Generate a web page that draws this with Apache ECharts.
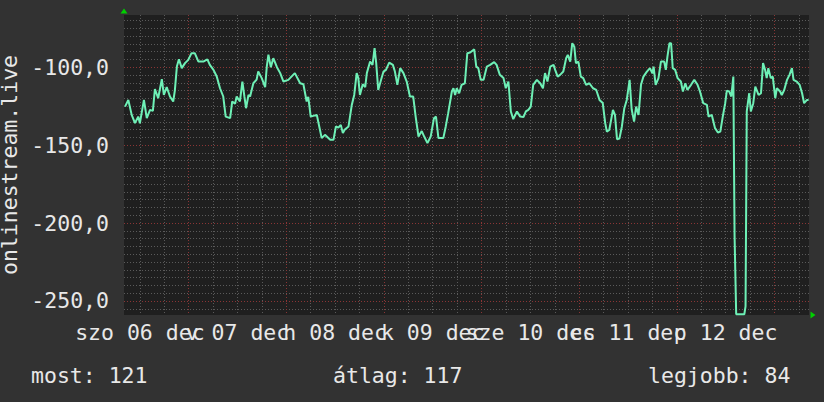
<!DOCTYPE html>
<html><head><meta charset="utf-8">
<script src="https://cdn.jsdelivr.net/npm/echarts@6/dist/echarts.min.js"></script>
<style>html,body{margin:0;padding:0;background:#323232;}#c{width:824px;height:402px;}</style>
</head><body><div id="c"></div>
<script>
// time = hours since szo 06 dec 00:00, value = measured value
const dec06 = [[8.35,-125.3],[9.16,-121],[9.99,-130.6],[10.8,-135.9],[11.6,-131.7],[12.0,-136],[13.0,-121],[13.7,-132.7],[14.5,-127.4],[15.2,-128],[15.7,-114],[16.5,-119.9],[17.4,-107.7],[17.9,-117.8],[18.6,-112.8],[19.4,-118.8],[20.2,-122],[20.6,-115],[21.1,-99.6],[21.6,-94.9],[22.3,-100.6],[23.1,-97.4],[23.9,-95.3]];
const dec07 = [[24.7,-91],[25.5,-91],[26.4,-96.4],[27.6,-96.4],[28.6,-95],[29.2,-98.5],[30.1,-101.7],[30.9,-106],[31.7,-113.5],[32.5,-118.8],[33.1,-131.7],[34.2,-132.7],[34.7,-122],[35.4,-123.5],[35.8,-118.8],[36.6,-122],[37.2,-109.2],[37.7,-118.8],[38.1,-126.3],[38.7,-117.8],[39.1,-118.8],[39.9,-110.3],[40.7,-108],[41.1,-102.8],[41.96,-107],[42.8,-112.8],[43.2,-99.6],[43.6,-92],[44.2,-100],[44.8,-94.2],[45.7,-100],[46.5,-103.8],[47.3,-109.2]];
const dec08 = [[48.5,-108.1],[50.1,-103.8],[51.4,-110.3],[52.2,-110.9],[53.0,-122],[53.4,-119],[54.0,-131.7],[55.5,-130.6],[56.1,-138],[56.7,-145.5],[57.5,-143.4],[58.8,-146.6],[59.6,-146.6],[60.2,-138],[60.8,-138.8],[61.4,-137],[61.9,-142.3],[62.4,-140],[63.3,-138],[64.1,-124.2],[64.7,-117.8],[65.3,-103.8],[65.7,-107],[66.1,-117.8],[66.8,-110.9],[67.4,-112.8],[67.8,-103.8],[68.6,-96.4],[69.2,-98.5],[69.7,-87.8],[70.1,-97.4],[70.6,-114.6],[71.3,-108.1]];
const dec09 = [[71.9,-102.8],[72.5,-101.7],[73.3,-97],[74.2,-98.5],[74.7,-102.8],[75.3,-111.3],[76.0,-100.6],[76.8,-103.8],[77.6,-109.2],[78.4,-118.8],[79.2,-118.8],[79.8,-131.7],[80.5,-144.5],[81.3,-141],[81.9,-144.5],[82.7,-148.7],[83.5,-144.5],[84.3,-132.7],[84.8,-131.7],[85.4,-145.5],[86.6,-145.5],[87.2,-138],[87.8,-129.5],[88.7,-115.6],[89.1,-113.5],[89.5,-117.8],[89.9,-113.5],[90.5,-116.7],[91.1,-111.3],[91.9,-110.3],[92.5,-91],[93.2,-90.6],[94.2,-88.5],[94.7,-99.6],[95.2,-100.6],[95.8,-108.1]];
const dec10 = [[96.5,-108.1],[97.3,-99.6],[98.1,-98.5],[99.1,-96.7],[99.7,-98.5],[100.5,-104.9],[101.4,-107],[101.96,-113.5],[102.6,-109.2],[103.2,-128.4],[103.8,-133.3],[104.7,-128.4],[105.5,-131.7],[106.3,-132],[106.9,-128.4],[107.5,-127.4],[108.1,-125.3],[108.7,-111.3],[109.6,-108.1],[110.4,-110.3],[111.1,-113.5],[111.6,-103.8],[112.2,-109.2],[112.9,-99.6],[113.7,-98.5],[114.1,-101.7],[114.7,-106],[115.3,-104.9],[116.1,-102.8],[116.8,-94.2],[117.2,-92.1],[117.8,-96.4],[118.3,-84.6],[118.8,-86.8],[119.2,-97.4],[119.8,-96.4]];
const dec11 = [[120.4,-106],[121.0,-107],[121.7,-111.3],[122.5,-110.3],[123.4,-113.5],[124.2,-114.6],[125.0,-121],[125.8,-123],[126.4,-135.9],[126.8,-141.3],[127.4,-140.3],[128.3,-127.4],[128.8,-130.6],[129.3,-146.2],[129.9,-145.7],[130.5,-138],[131.1,-126.3],[131.7,-121],[132.4,-108.1],[132.9,-127],[133.5,-134.9],[134.0,-125.3],[134.6,-130.6],[135.2,-111.3],[135.8,-106],[136.6,-103],[137.4,-100.6],[138.0,-104],[138.3,-99.6],[138.8,-111.3],[139.5,-107],[140.1,-96.4],[140.9,-96.4],[141.3,-101.7],[141.7,-93.2],[142.2,-84.6],[142.6,-84.6],[143.0,-100.6],[143.6,-101.7]];
const dec12 = [[144.2,-107],[145.0,-109.2],[145.5,-115.6],[146.1,-110.3],[146.6,-114.6],[147.5,-111.3],[148.3,-108.1],[149.1,-111.3],[149.7,-115.6],[150.5,-123.1],[151.4,-124.2],[151.8,-131.7],[152.6,-130.6],[153.4,-139.1],[154.1,-141.9],[154.7,-141.3],[155.3,-131.7],[155.9,-123.1],[156.3,-115],[156.9,-115.6],[157.4,-118.8],[157.9,-106],[158.2,-208],[158.6,-258.5],[160.6,-258.5],[160.9,-253.5],[161.2,-128.4],[161.8,-116.7],[162.2,-128.4],[162.8,-123.1],[163.3,-112.4],[164.1,-117.8],[164.7,-116.7],[165.2,-97.4],[165.7,-101.7],[166.1,-107],[166.5,-100.6],[167.1,-107],[167.6,-106]];
const dec13 = [[168.2,-119.9],[168.6,-113.5],[169.4,-115.6],[169.8,-117.8],[170.4,-114.6],[171.1,-108.1],[171.7,-104.9],[172.3,-100.6],[172.7,-108.1],[173.5,-109.2],[174.2,-111.3],[174.8,-116.7],[175.3,-123.1],[176.0,-121],[176.4,-121]];

const xRange = [8.1, 176.5];
const yRange = [-259, -66.5];
const dayLabelHours = [12, 36, 60, 84, 108, 132, 156];
const dayLabels = ['szo 06 dec', 'v 07 dec', 'h 08 dec', 'k 09 dec', 'sze 10 dec', 'cs 11 dec', 'p 12 dec'];
const minorXTicks = [12,18,24,30,36,42,48,54,60,66,72,78,84,90,96,102,108,114,120,126,132,138,144,150,156,162,168,174];
const majorXTicks = [24, 48, 72, 96, 120, 144, 168];
const yLabelTicks = [-250, -200, -150, -100];
const minorYStep = 5;
const yName = 'onlinestream.live';
const footTexts = ['most: 121', 'átlag: 117', 'legjobb: 84'];

const minorYTicks = [];
for (let v = -255; v <= -70; v += minorYStep) minorYTicks.push(v);
// labels alternate between two axes so that the library does not drop the overlapping ones
const labelsEven = dayLabelHours.filter((h, i) => i % 2 === 0);
const labelsOdd = dayLabelHours.filter((h, i) => i % 2 === 1);

const FONT = 'DejaVu Sans Mono';
const FS = 21.5;
const TXT = '#e8e8e8';
const minorLine = { show: true, lineStyle: { color: '#5a5a5a', width: 1, type: [1, 2] } };
const majorLine = { show: true, lineStyle: { color: '#8a3535', width: 1, type: [1, 2] } };
const dayFormatter = v => { const i = dayLabelHours.indexOf(Math.round(v)); return i >= 0 ? dayLabels[i] : ''; };
const xLabelStyle = (vals) => ({
  customValues: vals, hideOverlap: false, showMinLabel: true, showMaxLabel: true, margin: 6,
  color: TXT, fontFamily: FONT, fontSize: FS, lineHeight: 22, formatter: dayFormatter
});

const data = [].concat(dec06, dec07, dec08, dec09, dec10, dec11, dec12, dec13);

const chart = echarts.init(document.getElementById('c'), null, { renderer: 'svg' });
chart.setOption({
  animation: false,
  backgroundColor: '#323232',
  textStyle: { fontFamily: FONT },
  grid: { left: 124, right: 15, top: 15, bottom: 87, show: true, backgroundColor: '#1f1f1f', borderWidth: 0, containLabel: false, outerBoundsMode: 'none' },
  title: [
    { text: footTexts[0], left: 31, top: 364, padding: 0, textStyle: { color: TXT, fontFamily: FONT, fontSize: FS, fontWeight: 'normal', lineHeight: 22 } },
    { text: footTexts[1], left: 333, top: 364, padding: 0, textStyle: { color: TXT, fontFamily: FONT, fontSize: FS, fontWeight: 'normal', lineHeight: 22 } },
    { text: footTexts[2], left: 648, top: 364, padding: 0, textStyle: { color: TXT, fontFamily: FONT, fontSize: FS, fontWeight: 'normal', lineHeight: 22 } }
  ],
  xAxis: [
    {
      type: 'value', min: xRange[0], max: xRange[1], position: 'bottom', offset: 0,
      axisLine: { show: false },
      axisTick: { show: false, customValues: minorXTicks },
      splitLine: minorLine,
      axisLabel: xLabelStyle(labelsEven)
    },
    {
      type: 'value', min: xRange[0], max: xRange[1], position: 'bottom', offset: 0,
      axisLine: { show: false },
      axisTick: { show: false, customValues: majorXTicks },
      splitLine: majorLine,
      axisLabel: xLabelStyle(labelsOdd)
    }
  ],
  yAxis: [
    {
      type: 'value', min: yRange[0], max: yRange[1], position: 'left',
      name: yName, nameLocation: 'middle', nameGap: 101,
      nameTextStyle: { color: TXT, fontFamily: FONT, fontSize: FS, lineHeight: 16 },
      axisLine: { show: false },
      axisTick: { show: false, customValues: minorYTicks },
      splitLine: minorLine,
      axisLabel: {
        customValues: yLabelTicks, margin: 15, color: TXT, fontFamily: FONT, fontSize: FS,
        showMinLabel: true, showMaxLabel: true, hideOverlap: false,
        formatter: v => v.toFixed(1).replace('.', ',')
      }
    },
    {
      type: 'value', min: yRange[0], max: yRange[1], position: 'left',
      axisLine: { show: false }, axisLabel: { show: false },
      axisTick: { show: false, customValues: yLabelTicks },
      splitLine: majorLine
    }
  ],
  series: [{
    type: 'line', xAxisIndex: 0, yAxisIndex: 0,
    data: data, symbol: 'none',
    lineStyle: { color: '#6ef0b6', width: 2 },
    markPoint: {
      silent: true, label: { show: false },
      itemStyle: { color: '#00d000' },
      data: [
        { coord: [xRange[0], yRange[1]], symbol: 'triangle', symbolSize: [7, 5], symbolOffset: [0, -4] },
        { coord: [xRange[1], yRange[0]], symbol: 'triangle', symbolSize: [7, 5], symbolRotate: -90, symbolOffset: [4, 0] }
      ]
    }
  }]
});
</script>
</body></html>
